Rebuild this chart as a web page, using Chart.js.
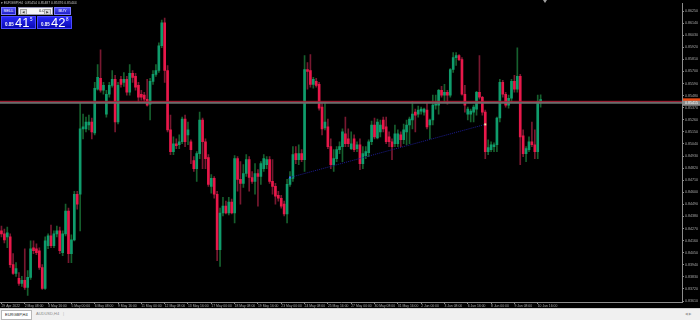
<!DOCTYPE html>
<html>
<head>
<meta charset="utf-8">
<script src="https://cdn.jsdelivr.net/npm/chart.js@4/dist/chart.umd.min.js"></script>
<style>
html,body{margin:0;padding:0;background:#000;}
#wrap{position:relative;width:700px;height:320px;overflow:hidden;background:#000;font-family:"Liberation Sans","DejaVu Sans",sans-serif;}
#c{position:absolute;left:0;top:0;}
.ov{position:absolute;white-space:nowrap;}
#title{left:1px;top:0px;font-size:3.4px;line-height:6px;color:#c0c0c0;}
.tb{top:7px;height:8px;background:linear-gradient(#5050f4,#2020c8);border:1px solid #7a7aff;box-sizing:border-box;color:#fff;font-size:4px;line-height:6px;text-align:center;}
#lot{left:18px;top:7px;width:35px;height:8px;background:#f6f6f6;box-sizing:border-box;border:1px solid #9a9ab8;color:#202020;font-size:4px;line-height:6px;}
#lot .a{position:absolute;top:1px;width:5px;height:4px;background:#dcdcdc;border:1px solid #a0a0a0;font-size:3px;line-height:4px;text-align:center;color:#333;}
.big{top:16px;height:13px;background:linear-gradient(#2828f8,#0a0ab4);border:1px solid #4a4aff;box-sizing:border-box;color:#fff;}
.big span{position:absolute;}
.big .s{left:3px;top:5px;font-size:4.5px;font-weight:bold;line-height:5px;}
.big .b{left:13px;top:-1px;font-size:13px;line-height:13px;}
.big .p{left:28px;top:0px;font-size:4.5px;line-height:5px;}
#tabs{left:0;top:308px;width:700px;height:12px;background:#f0f0f0;border-top:1px solid #d0d0d0;box-sizing:border-box;}
.tab{position:absolute;top:1px;height:8px;font-size:4px;line-height:8px;padding:0 3px;}
#shift{left:543px;top:0;width:0;height:0;border-left:2px solid transparent;border-right:2px solid transparent;border-top:3px solid #a0a0a0;}
</style>
</head>
<body>
<div id="wrap">
<canvas id="c" width="700" height="320"></canvas>
<div class="ov" id="title">&#9662; EURGBP,H4&nbsp; 0.85454 0.85487 0.85376 0.85444</div>
<div class="ov tb" style="left:1px;width:15px;">SELL</div>
<div class="ov" id="lot"><div class="a" style="left:1px;">&#9664;</div><span style="position:absolute;left:20px;top:0;">0.02</span><div class="a" style="right:1px;">&#9654;</div></div>
<div class="ov tb" style="left:54px;width:17px;">BUY</div>
<div class="ov big" style="left:1px;width:35px;"><span class="s">0.85</span><span class="b">41</span><span class="p">5</span></div>
<div class="ov big" style="left:37px;width:35px;"><span class="s">0.85</span><span class="b">42</span><span class="p">8</span></div>
<div class="ov" id="shift"></div>
<div class="ov" id="tabs">
  <div class="tab" style="left:1px;background:#fff;border:1px solid #b8b8b8;color:#202020;">EURGBP,H4</div>
  <div class="tab" style="left:33px;color:#8a8a8a;">AUDUSD,H4</div>
  <div class="tab" style="left:60px;color:#b0b0b0;">|</div>
  <div class="tab" style="left:682px;color:#a0a0a0;font-size:3.5px;">&#9664;&nbsp;&#9654;</div>
</div>
</div>
<script>
// ---- data ----
const timeTicks = ['29 Apr 2022','2 May 08:00','3 May 16:00','5 May 00:00','6 May 08:00','9 May 16:00','11 May 00:00','12 May 08:00','13 May 16:00','17 May 00:00','18 May 08:00','19 May 16:00','23 May 00:00','24 May 08:00','25 May 16:00','27 May 00:00','30 May 08:00','31 May 16:00','2 Jun 00:00','3 Jun 08:00','6 Jun 16:00','8 Jun 00:00','9 Jun 08:00','10 Jun 16:00'];
const priceTicks = [0.83610,0.83720,0.83830,0.83940,0.84050,0.84160,0.84270,0.84380,0.84490,0.84600,0.84710,0.84820,0.84930,0.85040,0.85150,0.85260,0.85370,0.85480,0.85590,0.85700,0.85810,0.85920,0.86030,0.86140,0.86250];
const barsPerLabel = 8;
const totalSlots = 234;

const opens = [0.84248,0.84221,0.84194,0.84194,0.83942,0.83861,0.83816,0.83770,0.83798,0.83734,
0.83825,0.84095,0.84086,0.84068,0.83915,0.83725,0.84113,0.84203,0.84113,0.84221,
0.84248,0.84050,0.84221,0.84429,0.84041,0.84167,0.84582,0.84582,0.85177,0.85177,
0.85213,0.85240,0.85141,0.85538,0.85637,0.85529,0.85312,0.85493,0.85574,0.85628,
0.85240,0.85628,0.85601,0.85628,0.85511,0.85682,0.85655,0.85574,0.85493,0.85484,
0.85447,0.85402,0.85610,0.85673,0.85709,0.85934,0.86142,0.85709,0.85168,0.84970,
0.85042,0.85033,0.85060,0.85267,0.85123,0.85060,0.84888,0.84816,0.84952,0.85258,
0.85060,0.84916,0.84654,0.84726,0.84582,0.84077,0.84411,0.84474,0.84411,0.84510,
0.84411,0.84906,0.84717,0.84681,0.84771,0.84897,0.84735,0.84699,0.84771,0.84744,
0.84816,0.84852,0.84897,0.84699,0.84654,0.84573,0.84546,0.84492,0.84402,0.84672,
0.84726,0.84952,0.84897,0.84952,0.84897,0.85718,0.85709,0.85583,0.85610,0.85583,
0.85375,0.85186,0.85195,0.85015,0.84852,0.84906,0.84988,0.85015,0.85132,0.85087,
0.84997,0.85087,0.84997,0.85033,0.84861,0.84934,0.84961,0.85060,0.85213,0.85096,
0.85150,0.85258,0.85195,0.85105,0.85060,0.85042,0.85042,0.85123,0.85078,0.85150,
0.85213,0.85258,0.85330,0.85312,0.85339,0.85330,0.85348,0.85213,0.85258,0.85393,
0.85393,0.85529,0.85484,0.85511,0.85484,0.85718,0.85826,0.85844,0.85808,0.85493,
0.85312,0.85312,0.85330,0.85357,0.85511,0.85465,0.85330,0.84970,0.84988,0.85015,
0.85033,0.85276,0.85601,0.85493,0.85393,0.85456,0.85610,0.85538,0.85655,0.85114,
0.84952,0.84988,0.85060,0.85033,0.84970,0.85420];
const highs = [0.84293,0.84266,0.84284,0.84221,0.84041,0.83960,0.83870,0.83834,0.84086,0.83888,
0.84158,0.84158,0.84131,0.84095,0.83942,0.84194,0.84221,0.84302,0.84248,0.84293,
0.84284,0.84248,0.84492,0.84456,0.84212,0.84609,0.84609,0.85420,0.85312,0.85285,
0.85303,0.85276,0.85601,0.85763,0.85898,0.85601,0.85529,0.85601,0.85709,0.85664,
0.85601,0.85655,0.85691,0.85655,0.85763,0.85709,0.85682,0.85601,0.85529,0.85511,
0.85628,0.85637,0.85709,0.85763,0.85961,0.86169,0.86187,0.85754,0.85303,0.85105,
0.85087,0.85123,0.85285,0.85303,0.85240,0.85078,0.84925,0.84970,0.85330,0.85276,
0.85087,0.84943,0.84762,0.84744,0.84609,0.84456,0.84555,0.84519,0.84555,0.84537,
0.84934,0.84925,0.84879,0.84852,0.84943,0.84925,0.84789,0.84861,0.84807,0.84879,
0.84943,0.84925,0.84925,0.84897,0.84681,0.84609,0.84573,0.84519,0.84717,0.84789,
0.85015,0.85015,0.85033,0.84988,0.85844,0.85781,0.85853,0.85646,0.85637,0.85601,
0.85420,0.85420,0.85267,0.85087,0.84988,0.85015,0.85060,0.85177,0.85285,0.85177,
0.85150,0.85123,0.85060,0.85087,0.85015,0.85015,0.85078,0.85249,0.85276,0.85267,
0.85258,0.85285,0.85285,0.85150,0.85087,0.85213,0.85168,0.85150,0.85222,0.85258,
0.85285,0.85429,0.85357,0.85384,0.85375,0.85366,0.85411,0.85267,0.85484,0.85484,
0.85538,0.85565,0.85583,0.85529,0.85727,0.85871,0.85871,0.85853,0.85826,0.85574,
0.85375,0.85357,0.85393,0.85520,0.85844,0.85474,0.85348,0.85078,0.85060,0.85051,
0.85285,0.85628,0.85619,0.85511,0.85484,0.85628,0.85664,0.85916,0.85673,0.85168,
0.85015,0.85105,0.85240,0.85168,0.85484,0.85487];
const lows = [0.84194,0.84140,0.84095,0.83915,0.83852,0.83834,0.83752,0.83743,0.83716,0.83662,
0.83807,0.84041,0.84032,0.83897,0.83716,0.83716,0.84086,0.84095,0.84095,0.84194,
0.84041,0.84023,0.84203,0.83960,0.83960,0.84158,0.84447,0.84248,0.85087,0.85150,
0.85168,0.85087,0.85123,0.85529,0.85511,0.85493,0.85285,0.85465,0.85556,0.85150,
0.85222,0.85556,0.85565,0.85484,0.85484,0.85601,0.85529,0.85420,0.85438,0.85420,
0.85384,0.85258,0.85583,0.85655,0.85691,0.85916,0.85601,0.85150,0.84943,0.84943,
0.84997,0.84997,0.85042,0.85015,0.85033,0.84861,0.84789,0.84699,0.84906,0.84816,
0.84816,0.84654,0.84591,0.84546,0.83978,0.83924,0.84384,0.84402,0.84393,0.84402,
0.84320,0.84609,0.84492,0.84645,0.84744,0.84609,0.84681,0.84582,0.84474,0.84672,
0.84789,0.84816,0.84681,0.84582,0.84492,0.84519,0.84456,0.84384,0.84320,0.84654,
0.84699,0.84861,0.84852,0.84879,0.84789,0.85538,0.85556,0.85547,0.85556,0.85348,
0.85123,0.85168,0.84997,0.84816,0.84789,0.84879,0.84952,0.84879,0.85015,0.85015,
0.84988,0.84970,0.84970,0.84807,0.84816,0.84906,0.84925,0.85033,0.85087,0.85087,
0.85105,0.85150,0.85042,0.85015,0.84897,0.85015,0.85015,0.85015,0.85042,0.85033,
0.85042,0.85177,0.85150,0.85285,0.85312,0.85303,0.85177,0.85087,0.85213,0.85357,
0.85312,0.85465,0.85420,0.85402,0.85465,0.85691,0.85754,0.85799,0.85484,0.85330,
0.85258,0.85240,0.85240,0.85303,0.85447,0.85303,0.84906,0.84943,0.84970,0.84970,
0.84970,0.85240,0.85465,0.85375,0.85366,0.85420,0.85511,0.85511,0.84852,0.84925,
0.84879,0.84970,0.85015,0.84906,0.84906,0.85376];
const closes = [0.84221,0.84167,0.84230,0.83942,0.83861,0.83906,0.83770,0.83798,0.83734,0.83825,
0.84086,0.84068,0.84050,0.83915,0.83725,0.84158,0.84203,0.84113,0.84221,0.84248,
0.84068,0.84221,0.84429,0.84041,0.84167,0.84582,0.84492,0.85177,0.85195,0.85240,
0.85240,0.85150,0.85547,0.85646,0.85529,0.85574,0.85493,0.85574,0.85628,0.85240,
0.85574,0.85583,0.85628,0.85511,0.85682,0.85646,0.85556,0.85465,0.85465,0.85447,
0.85393,0.85610,0.85673,0.85709,0.85934,0.86142,0.85709,0.85168,0.84970,0.85042,
0.85024,0.85060,0.85267,0.85060,0.85168,0.84988,0.84816,0.84952,0.85258,0.85060,
0.84906,0.84672,0.84726,0.84582,0.84077,0.84411,0.84474,0.84411,0.84510,0.84411,
0.84906,0.84717,0.84681,0.84771,0.84897,0.84735,0.84699,0.84771,0.84744,0.84861,
0.84906,0.84897,0.84699,0.84654,0.84564,0.84546,0.84474,0.84402,0.84672,0.84726,
0.84943,0.84897,0.84952,0.84897,0.85718,0.85700,0.85583,0.85628,0.85574,0.85366,
0.85177,0.85240,0.85015,0.84852,0.84906,0.84988,0.85015,0.85150,0.85042,0.85042,
0.85042,0.84988,0.85033,0.84861,0.84952,0.84970,0.85060,0.85213,0.85105,0.85240,
0.85213,0.85177,0.85060,0.85060,0.85015,0.85132,0.85132,0.85078,0.85168,0.85213,
0.85267,0.85312,0.85303,0.85348,0.85357,0.85357,0.85195,0.85258,0.85393,0.85402,
0.85529,0.85484,0.85511,0.85484,0.85718,0.85826,0.85844,0.85808,0.85493,0.85393,
0.85357,0.85339,0.85375,0.85511,0.85465,0.85330,0.84970,0.85006,0.85033,0.85033,
0.85276,0.85601,0.85493,0.85393,0.85456,0.85610,0.85538,0.85655,0.85105,0.84952,
0.84997,0.85060,0.85033,0.84970,0.85429,0.85444];
const bidPrice = 0.85415;
const askPrice = 0.85428;
const trendStart = {bar: 99, price: 0.84735};
const trendEnd = {bar: 166, price: 0.85218};

// ---- styles ----
const UP = '#0f9c6c', DOWN = '#e8184a', UPW = '#16602e', DOWNW = '#781830';
const AXIS = '#8c8c8c', TXT = '#aaaaaa';

const slots = [];
for (let i = 0; i < totalSlots; i++) slots.push(String(i));
const isUp = opens.map((o, i) => closes[i] >= o);

const overlay = {
  id: 'overlay',
  afterDatasetsDraw(chart) {
    const {ctx, chartArea: a, scales: {x, y}} = chart;
    ctx.save();
    const x1 = x.getPixelForValue(trendStart.bar), y1 = y.getPixelForValue(trendStart.price);
    const x2 = x.getPixelForValue(trendEnd.bar), y2 = y.getPixelForValue(trendEnd.price);
    ctx.strokeStyle = '#1c1c90'; ctx.lineWidth = 1; ctx.setLineDash([1, 1]);
    ctx.beginPath(); ctx.moveTo(x1, y1); ctx.lineTo(x2, y2); ctx.stroke();
    ctx.setLineDash([]);
    ctx.fillStyle = '#3c6cff'; ctx.fillRect(x1 - 1, y1 - 1, 2, 2);
    ctx.fillStyle = '#f0e0a0'; ctx.fillRect(x2 - 1, y2 - 1, 2, 2);
    const yb = y.getPixelForValue(bidPrice), ya = y.getPixelForValue(askPrice);
    ctx.fillStyle = '#6a6a6a'; ctx.fillRect(a.left, yb - 1, a.right - a.left, 2);
    ctx.fillStyle = '#b02038'; ctx.fillRect(a.left, ya - 0.5, a.right - a.left, 1);
    ctx.restore();
  },
  afterDraw(chart) {
    const {ctx, chartArea: a, scales: {y}} = chart;
    const yb = y.getPixelForValue(bidPrice), ya = y.getPixelForValue(askPrice);
    ctx.save();
    ctx.fillStyle = '#e84a14'; ctx.fillRect(a.right + 1, ya - 3, 17, 5);
    ctx.fillStyle = '#8a8a8a'; ctx.fillRect(a.right + 1, yb - 2, 17, 5);
    ctx.fillStyle = '#ffffff'; ctx.font = '3.6px "Liberation Sans"';
    ctx.textBaseline = 'middle'; ctx.textAlign = 'left';
    ctx.fillText(bidPrice.toFixed(5), a.right + 3, yb + 0.5);
    ctx.restore();
  }
};

new Chart(document.getElementById('c'), {
  type: 'bar',
  data: {
    labels: slots,
    datasets: [
      { label: 'wick', data: highs.map((h, i) => [lows[i], h]),
        backgroundColor: isUp.map(u => u ? UPW : DOWNW),
        barThickness: 1, grouped: false, order: 2, minBarLength: 1 },
      { label: 'body', data: opens.map((o, i) => [o, closes[i]]),
        backgroundColor: isUp.map(u => u ? UP : DOWN),
        barThickness: 2, grouped: false, order: 1, minBarLength: 1 }
    ]
  },
  options: {
    responsive: false, animation: false,
    layout: { padding: 0 },
    plugins: { legend: { display: false }, tooltip: { enabled: false } },
    scales: {
      x: {
        type: 'category', offset: true,
        grid: { display: true, drawOnChartArea: false, drawTicks: true, tickLength: 2, offset: false,
          color: c => (c.index % barsPerLabel === 0 && timeTicks[c.index / barsPerLabel]) ? AXIS : 'rgba(0,0,0,0)' },
        border: { display: true, color: AXIS },
        ticks: { autoSkip: false, maxRotation: 0, minRotation: 0, align: 'start', padding: 0,
          color: TXT, font: { size: 3.4, family: 'Liberation Sans' },
          callback: (v, i) => (i % barsPerLabel === 0 && timeTicks[i / barsPerLabel]) ? timeTicks[i / barsPerLabel] : '' },
        afterFit: s => { s.height = 18; }
      },
      y: {
        position: 'right', min: 0.83601, max: 0.86322,
        afterBuildTicks: s => { s.ticks = priceTicks.map(v => ({ value: v })); },
        grid: { display: true, drawOnChartArea: false, drawTicks: true, tickLength: 2, color: AXIS },
        border: { display: true, color: AXIS },
        ticks: { color: TXT, padding: 1, font: { size: 3.6, family: 'Liberation Sans' },
          callback: v => Number(v).toFixed(5) },
        afterFit: s => { s.width = 18; }
      }
    }
  },
  plugins: [overlay]
});
</script>
</body>
</html>
